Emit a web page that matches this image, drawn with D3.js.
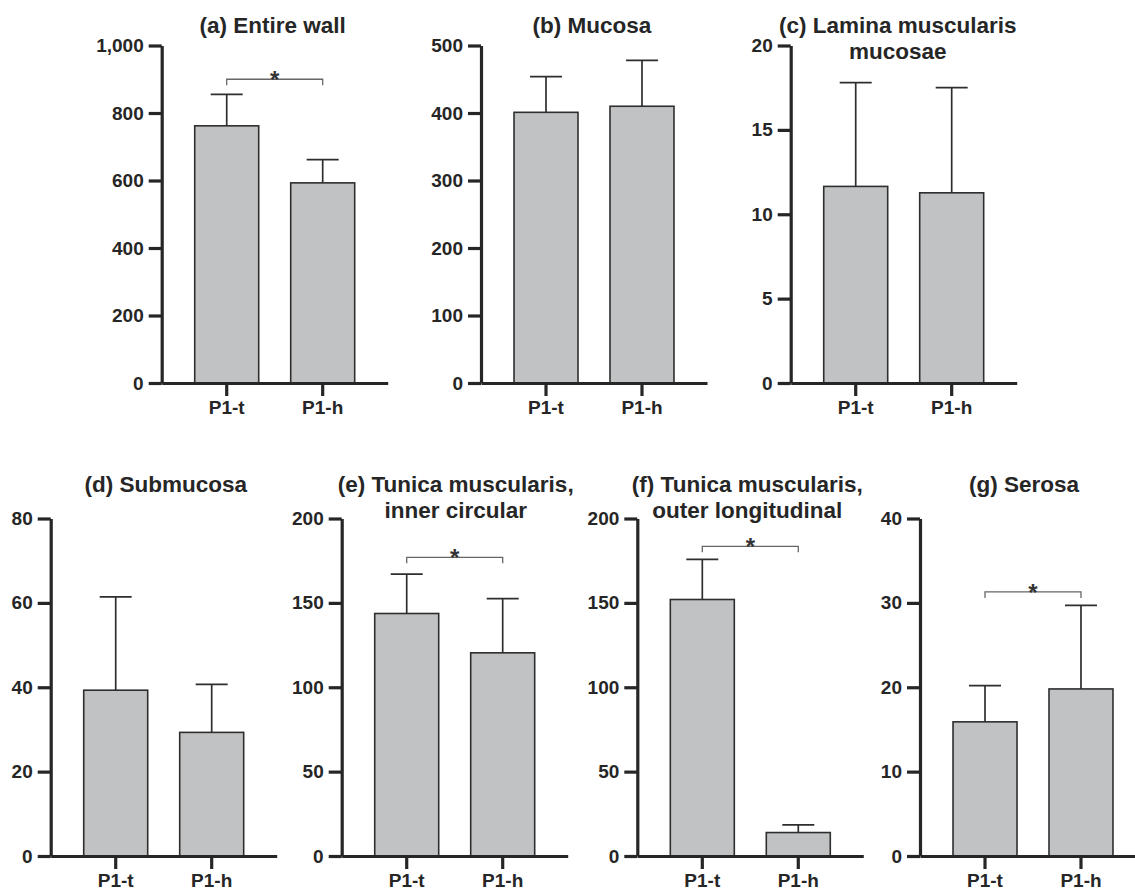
<!DOCTYPE html>
<html lang="en">
  <head>
    <meta charset="utf-8">
    <script src="https://d3js.org/d3.v7.min.js"></script>
    <style>
      body {margin: 0; background: white;}
      text {font-family: "Liberation Sans", Arial, sans-serif; fill: #262626;}
      .axis path, .axis line {stroke: #262626; stroke-width: 3.2;}
      .axis text {font-size: 19px; font-weight: bold; fill: #262626;}
      .title {font-size: 22.5px; font-weight: bold;}
      rect.bar {fill: #c1c2c4; stroke: #2e2e2e; stroke-width: 1.6;}
      .err {stroke: #2e2e2e; stroke-width: 1.7;}
      .sig {stroke: #666; stroke-width: 1.3; fill: none;}
      .star {font-size: 24px; font-weight: bold; fill: #333;}
    </style>
  </head>
  <body>
    <script type="text/javascript">
      // groups and panel data
      const categories = ["P1-t", "P1-h"];
      const panelTitles = [
        ["(a) Entire wall"],
        ["(b) Mucosa"],
        ["(c) Lamina muscularis", "mucosae"],
        ["(d) Submucosa"],
        ["(e) Tunica muscularis,", "inner circular"],
        ["(f) Tunica muscularis,", "outer longitudinal"],
        ["(g) Serosa"]
      ];
      const meanT = [762, 401, 11.65, 39.3, 143.7, 152, 15.9];
      const meanH = [593, 410, 11.27, 29.3, 120.4, 13.9, 19.8];
      const errT = [855, 454, 17.8, 61.4, 167, 175.8, 20.2];
      const errH = [662, 478, 17.5, 40.7, 152.5, 18.4, 29.7];
      const yMax = [1000, 500, 20, 80, 200, 200, 40];
      const tickStep = [200, 100, 5, 20, 50, 50, 10];
      // significance bracket height (null = none)
      const sigLevel = [900, null, null, null, 177, 183.5, 31.3];

      // layout of the panels
      const w = 1135;
      const h = 888;
      const axisX = [161.7, 481, 790.7, 50.7, 341.7, 637.3, 920];
      const baseY = [383, 383, 383, 856, 856, 856, 856];
      const plotH = 337.5;
      const plotW = 226;
      const titleY = [33, 33, 33, 492, 492, 492, 492];
      const titleDx = [-2, -2, -6, 2, 1, -3, -9];

      var svg = d3.select("body")
            .append("svg")
            .attr("width", w)
            .attr("height", h);

      panelTitles.forEach(function(title, i) {
        var g = svg.append("g");
        var values = [meanT[i], meanH[i]];
        var tops = [errT[i], errH[i]];

        var yScale = d3.scaleLinear()
              .domain([0, yMax[i]])
              .range([baseY[i], baseY[i] - plotH]);
        var xScale = d3.scaleBand()
              .domain(categories)
              .range([axisX[i], axisX[i] + plotW])
              .paddingInner(1 / 3)
              .paddingOuter(0.344);

        // bars
        g.selectAll("rect.bar")
            .data(values)
            .enter()
            .append("rect")
            .attr("class", "bar")
            .attr("x", function(d, j) { return xScale(categories[j]); })
            .attr("y", function(d) { return yScale(d); })
            .attr("width", xScale.bandwidth())
            .attr("height", function(d) { return yScale(0) - yScale(d); });

        // upper error bars
        var cx = function(j) { return xScale(categories[j]) + xScale.bandwidth() / 2; };
        var capHalf = xScale.bandwidth() / 4;
        tops.forEach(function(t, j) {
          g.append("line").attr("class", "err")
              .attr("x1", cx(j)).attr("x2", cx(j))
              .attr("y1", yScale(values[j])).attr("y2", yScale(t));
          g.append("line").attr("class", "err")
              .attr("x1", cx(j) - capHalf).attr("x2", cx(j) + capHalf)
              .attr("y1", yScale(t)).attr("y2", yScale(t));
        });

        // significance bracket
        if (sigLevel[i] !== null) {
          var sy = yScale(sigLevel[i]);
          g.append("path").attr("class", "sig")
              .attr("d", "M" + cx(0) + "," + (sy + 6) + "V" + sy + "H" + cx(1) + "V" + (sy + 6));
          g.append("text")
              .attr("class", "star")
              .attr("x", (cx(0) + cx(1)) / 2)
              .attr("y", sy + 9)
              .attr("text-anchor", "middle")
              .text("*");
        }

        // axes
        var ticks = d3.range(0, yMax[i] + tickStep[i] / 2, tickStep[i]);
        g.append("g")
            .attr("class", "axis")
            .attr("transform", "translate(" + axisX[i] + ",0)")
            .call(d3.axisLeft(yScale).tickValues(ticks).tickFormat(d3.format(","))
              .tickSize(13).tickSizeOuter(0).tickPadding(5));
        g.append("g")
            .attr("class", "axis")
            .attr("transform", "translate(0," + baseY[i] + ")")
            .call(d3.axisBottom(xScale).tickSize(13).tickSizeOuter(0).tickPadding(5));

        // title
        var tx = axisX[i] + plotW / 2 + titleDx[i];
        title.forEach(function(line, k) {
          g.append("text")
              .attr("class", "title")
              .attr("x", tx)
              .attr("y", titleY[i] + k * 26)
              .attr("text-anchor", "middle")
              .text(line);
        });
      });
    </script>
  </body>
</html>
